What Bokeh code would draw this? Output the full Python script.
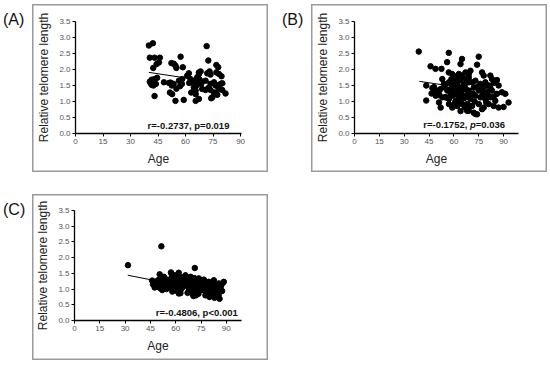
from bokeh.plotting import figure
from bokeh.models import Div, Label, FixedTicker, Spacer
from bokeh.layouts import row, column
from bokeh.embed import file_html
from bokeh.resources import INLINE

FONT = "Liberation Sans"

# ---------------- data ----------------
x_ticks = [0, 15, 30, 45, 60, 75, 90]
x_tick_labels = ["0", "15", "30", "45", "60", "75", "90"]
y_ticks = [0.0, 0.5, 1.0, 1.5, 2.0, 2.5, 3.0, 3.5]
y_tick_labels = ["0.0", "0.5", "1.0", "1.5", "2.0", "2.5", "3.0", "3.5"]
x_label = "Age"
y_label = "Relative telomere length"

# Panel A
age_a = [40.0, 42.2, 40.5, 43.1, 46.0, 44.2, 45.5, 42.4,
         40.5, 41.0, 41.5, 42.3, 43.0, 43.8, 44.5, 41.5, 42.5, 43.1,
         48.2, 51.0, 51.8, 52.5, 53.5, 55.0, 51.5, 52.7, 54.5, 59.0,
         53.6, 52.3, 54.5, 58.5, 57.3, 55.0,
         56.4, 58.2, 57.0, 58.0, 60.9, 61.8,
         62.7, 64.5, 66.4, 67.3, 63.1, 65.5, 65.5, 67.3, 64.5, 66.0, 62.0, 63.5,
         67.3, 68.2, 66.4, 67.5, 68.5, 69.0, 65.5, 69.1,
         71.5, 72.4, 76.8, 77.8, 71.8, 73.1, 73.6, 76.8, 78.2, 79.6,
         70.9, 73.6, 75.5, 76.4, 79.1, 80.0, 70.9, 72.4, 73.6, 75.5, 77.3, 80.0, 74.6, 81.8, 74.0, 78.0]
len_a = [2.75, 2.82, 2.37, 2.37, 2.37, 2.17, 2.22, 2.05,
         1.62, 1.57, 1.68, 1.60, 1.70, 1.55, 1.74, 1.52, 1.50, 1.17,
         1.60, 1.58, 1.59, 1.50, 1.55, 1.40, 1.28, 1.23, 1.02, 1.05,
         2.18, 2.20, 2.12, 2.07, 2.40, 2.05,
         1.65, 1.70, 1.48, 1.55, 1.81, 1.88,
         1.70, 1.65, 1.76, 1.86, 1.28, 1.23, 1.02, 1.08, 1.44, 1.50, 1.58, 1.60,
         1.91, 1.94, 1.60, 1.70, 1.55, 1.62, 1.34, 1.39,
         2.73, 2.28, 2.14, 2.07, 1.88, 1.94, 1.84, 1.91, 1.86, 1.79,
         1.65, 1.55, 1.60, 1.50, 1.55, 1.57, 1.36, 1.42, 1.36, 1.28, 1.21, 1.36, 1.13, 1.25, 1.10, 1.38]
fit_a_x = [40.0, 81.8]
fit_a_y = [1.91, 1.55]
stat_a = "r=-0.2737, p=0.019"

# Panel B
age_b = [38.8, 43.3, 43.3, 45.9, 48.9, 52.5, 47.0, 48.9, 50.9,
         50.0, 52.0, 49.0, 51.0, 53.0, 51.0, 52.0, 53.0, 54.0, 55.0, 56.0, 54.5, 46.5, 48.0,
         56.9, 55.9, 64.0, 64.9,
         56.9, 58.9, 63.0, 65.0, 67.0, 69.0, 60.0, 61.5,
         57.0, 60.0, 63.0, 66.0, 69.0, 58.5, 61.0, 64.5, 67.5, 62.0, 65.0,
         58.0, 60.0, 62.0, 65.0, 68.0, 59.0, 63.5, 66.5,
         55.0, 57.0, 59.0, 61.0, 63.0, 67.0, 58.0, 61.5, 64.5, 66.0, 69.0,
         57.0, 59.0, 62.0, 65.0, 68.0, 70.0, 60.5, 63.5, 66.5,
         68.0, 73.0, 74.0, 72.0, 69.0, 77.0, 64.0,
         75.0, 74.0, 70.0, 69.0, 78.0, 82.0, 83.0, 86.0, 77.0,
         71.0, 73.0, 76.0, 79.0, 81.0, 87.0, 84.0,
         67.0, 69.0, 72.0, 75.0, 77.0, 80.0, 83.0, 86.0, 89.0, 91.0, 74.0, 78.5, 82.0,
         67.0, 70.0, 73.0, 76.0, 79.0, 82.0, 85.0, 71.5, 77.5, 80.5, 84.0,
         68.0, 71.0, 75.0, 78.0, 81.0, 84.0, 87.0, 93.0, 90.0, 72.5, 79.5]
len_b = [2.56, 1.50, 1.03, 2.10, 2.02, 2.02, 1.42, 1.33, 1.20,
         1.34, 1.39, 1.18, 1.24, 1.13, 0.97, 0.81, 1.70, 1.55, 1.13, 1.34, 1.45, 1.25, 1.45,
         2.52, 2.23, 2.17, 2.33,
         1.91, 1.86, 1.86, 1.81, 1.91, 1.86, 1.80, 1.75,
         1.60, 1.55, 1.65, 1.55, 1.60, 1.70, 1.68, 1.72, 1.70, 1.50, 1.45,
         1.39, 1.29, 1.34, 1.39, 1.34, 1.45, 1.42, 1.48,
         1.13, 1.08, 1.18, 1.02, 1.13, 1.18, 1.24, 1.22, 1.25, 1.10, 1.20,
         0.92, 0.81, 0.86, 0.92, 0.76, 0.86, 0.95, 0.98, 0.83,
         0.71, 0.61, 0.60, 0.65, 0.71, 0.76, 0.70,
         2.40, 2.15, 1.96, 1.75, 1.81, 1.81, 1.70, 1.67, 1.91,
         1.60, 1.65, 1.55, 1.60, 1.50, 1.50, 1.58,
         1.39, 1.34, 1.44, 1.34, 1.39, 1.29, 1.34, 1.24, 1.29, 1.24, 1.45, 1.47, 1.42,
         1.13, 1.08, 1.18, 1.13, 1.08, 1.13, 1.02, 1.25, 1.22, 1.20, 1.15,
         0.92, 0.86, 0.92, 0.81, 0.92, 0.86, 0.81, 0.97, 0.83, 1.00, 0.98]
fit_b_x = [39.2, 93.0]
fit_b_y = [1.63, 1.21]
stat_b_parts = ["r=-0.1752, ", "p", "=0.036"]

# Panel C
age_c = [31.7, 51.5, 71.3, 50.5, 57.2,
         46.0, 47.0, 46.5, 48.0, 49.0, 50.6, 52.6, 55.0, 51.0, 53.3, 55.0, 52.0, 53.0, 48.5, 50.0, 54.0, 51.5, 54.5, 47.5,
         57.5, 59.9, 61.8, 56.0, 57.0, 58.0, 59.0, 60.0, 61.0, 62.0, 63.0, 64.0, 65.0, 56.5, 58.5, 60.5, 62.8, 61.8,
         63.5, 64.5, 57.5, 59.5, 61.5, 63.0, 65.0, 58.0,
         65.8, 68.8, 70.8, 73.7, 66.0, 67.0, 67.5, 68.0, 69.0, 69.7, 70.0, 71.0, 71.5, 72.0, 72.5, 73.0, 74.0, 74.5,
         75.0, 66.5, 68.5, 70.5, 72.0, 73.5, 75.0, 67.0, 69.5, 71.0, 74.0, 75.5,
         76.7, 79.6, 82.6, 85.5, 88.5, 76.0, 77.0, 77.6, 78.0, 79.0, 80.0, 80.5, 81.0, 81.5, 82.0, 83.0, 83.5, 84.0,
         84.6, 85.0, 86.0, 86.5, 87.5, 88.0, 76.5, 78.5, 79.5, 81.0, 82.5, 84.0, 85.5, 87.0, 77.5, 80.0, 83.0]
len_c = [1.76, 2.36, 1.67, 1.47, 1.53,
         1.27, 1.20, 1.15, 1.10, 1.07, 1.18, 1.23, 1.30, 1.02, 1.07, 1.12, 0.97, 1.39, 1.25, 1.30, 1.18, 1.12, 1.00, 1.05,
         1.49, 1.44, 1.52, 1.25, 1.18, 1.30, 1.10, 1.22, 1.35, 1.15, 1.28, 1.05, 1.20, 1.05, 1.00, 0.95, 0.87, 0.86,
         1.38, 1.12, 1.35, 1.30, 1.08, 0.98, 1.32, 0.92,
         1.44, 1.39, 1.28, 1.34, 1.15, 1.25, 1.05, 0.95, 1.18, 0.86, 1.10, 1.00, 1.20, 0.90, 1.12, 1.05, 0.95, 1.22,
         1.08, 1.32, 1.28, 0.78, 0.80, 0.85, 0.98, 0.88, 1.05, 1.35, 1.15, 1.28,
         1.30, 1.23, 1.28, 1.18, 1.23, 1.05, 0.95, 0.80, 1.12, 1.00, 0.90, 1.10, 0.82, 1.02, 0.95, 1.12, 0.85, 1.00,
         0.75, 0.92, 0.69, 1.05, 0.94, 1.20, 1.18, 0.88, 1.15, 1.20, 0.78, 1.15, 0.82, 1.12, 1.22, 0.75, 0.72]
fit_c_x = [31.6, 85.5]
fit_c_y = [1.44, 0.87]
stat_c = "r=-0.4806, p<0.001"

panel_letters = ["(A)", "(B)", "(C)"]


def make_panel(ages, lengths, fit_x, fit_y, x_end, width, height, mbl, mbr, mbt, mbb):
    p = figure(width=width, height=height, x_range=(0, x_end), y_range=(0, 3.5),
               output_backend="svg", toolbar_location=None,
               min_border_left=mbl, min_border_right=mbr,
               min_border_top=mbt, min_border_bottom=mbb)
    # transparent border area so the CSS box line around the panel shows through
    p.border_fill_color = None
    p.background_fill_color = None
    p.styles = {"box-shadow": "inset 0 0 0 1.5px #9a9a9a", "background-color": "white"}
    p.outline_line_color = None
    p.xgrid.visible = False
    p.ygrid.visible = False
    p.xaxis.ticker = FixedTicker(ticks=x_ticks)
    p.xaxis.major_label_overrides = {t: s for t, s in zip(x_ticks, x_tick_labels)}
    p.yaxis.ticker = FixedTicker(ticks=y_ticks)
    p.yaxis.major_label_overrides = {t: s for t, s in zip(y_ticks, y_tick_labels)}
    p.xaxis.axis_label = x_label
    p.yaxis.axis_label = y_label
    for ax in (p.xaxis, p.yaxis):
        ax.axis_line_color = "black"
        ax.axis_line_width = 1.3
        ax.major_tick_line_color = "black"
        ax.major_tick_line_width = 1
        ax.major_tick_out = 3
        ax.major_tick_in = 0
        ax.minor_tick_line_color = None
        ax.major_label_text_font = FONT
        ax.major_label_text_font_size = "8px"
        ax.major_label_text_color = "#555555"
        ax.major_label_standoff = 2
        ax.axis_label_text_font = FONT
        ax.axis_label_text_font_size = "12px"
        ax.axis_label_text_font_style = "normal"
        ax.axis_label_text_color = "#222222"
        ax.axis_label_standoff = 5
    p.scatter(ages, lengths, size=5.5, color="black")
    p.line(fit_x, fit_y, color="black", line_width=1)
    return p


def stat_label(x, y, text, align="center", style="bold", x_offset=0):
    return Label(x=x, y=y, text=text, text_font=FONT, text_font_size="9.5px",
                 text_font_style=style, text_align=align, text_baseline="middle",
                 text_color="#111111", x_offset=x_offset)


def letter_div(text, width, height, left):
    html = ('<div style="position:relative; left:%dpx; top:5px; font-size:16px; '
            'font-family:\'Liberation Sans\', Arial, sans-serif; color:#111;">%s</div>' % (left, text))
    return Div(text=html, width=width, height=height, margin=0)


pa = make_panel(age_a, len_a, fit_a_x, fit_a_y, 90.5, 236, 168, 43, 27, 17, 39)
pa.add_layout(stat_label(61.6, 0.24, stat_a))

pb = make_panel(age_b, len_b, fit_b_x, fit_b_y, 99, 236, 168, 43, 29, 17, 39)
pb.add_layout(stat_label(41.5, 0.27, stat_b_parts[0], align="left"))
pb.add_layout(stat_label(41.5, 0.27, stat_b_parts[1], align="left", style="bold italic", x_offset=46.7))
pb.add_layout(stat_label(41.5, 0.27, stat_b_parts[2], align="left", x_offset=52.5))

pc = make_panel(age_c, len_c, fit_c_x, fit_c_y, 99, 236, 166, 42, 27, 16, 40)
pc.add_layout(stat_label(72.5, 0.26, stat_c))

row1 = row(letter_div(panel_letters[0], 32, 168, 3), pa,
           letter_div(panel_letters[1], 43, 168, 14), pb, spacing=0)
row2 = row(letter_div(panel_letters[2], 32, 166, 3), pc, spacing=0)
layout = column(row1, Spacer(width=10, height=22), row2, spacing=0, margin=(4, 0, 0, 0))

open("out.html", "w").write(file_html(layout, INLINE))
